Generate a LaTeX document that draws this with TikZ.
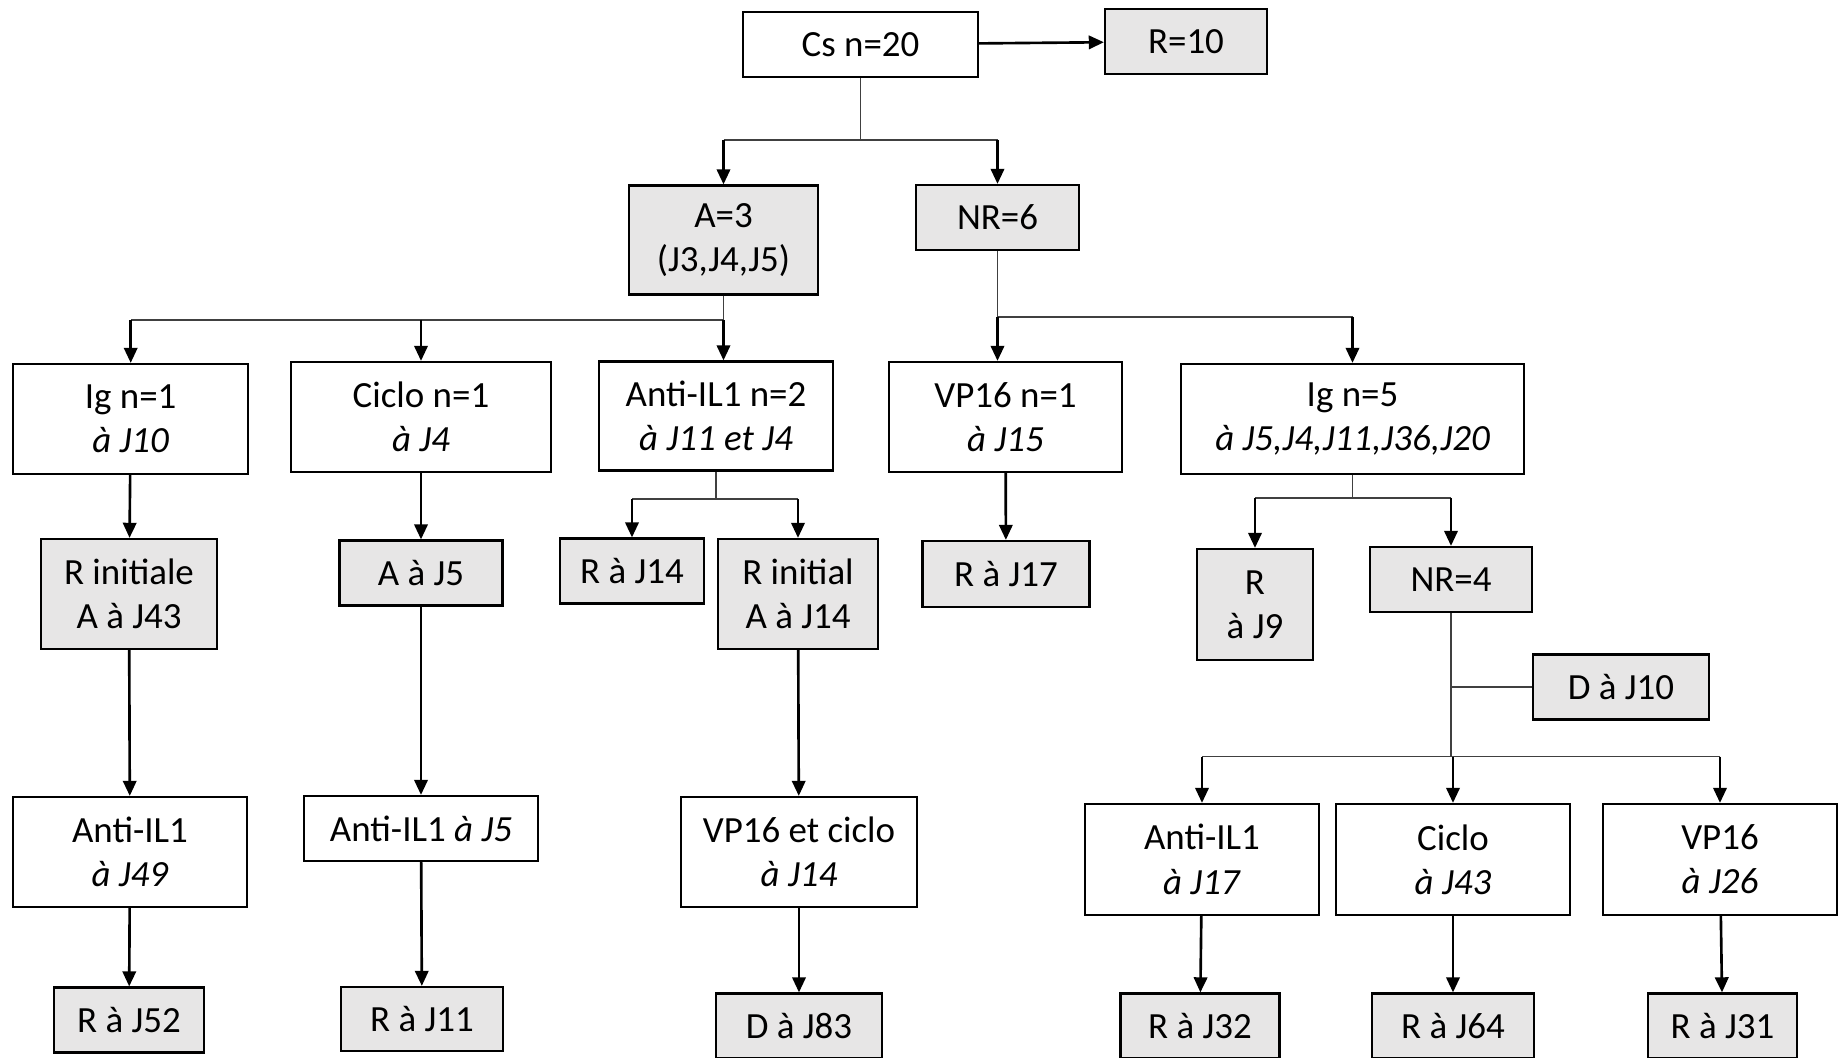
\documentclass[tikz,border=0pt]{standalone}
\usepackage{fontspec}
\setmainfont{Carlito}
\usetikzlibrary{arrows.meta}
\definecolor{boxgray}{RGB}{231,230,230}
\tikzstyle{wbox} = [rectangle, draw, fill=white, align=center, inner sep=0pt,
    line width=0.6pt, font=\fontsize{10.5}{12.6}\selectfont]
\tikzstyle{gbox} = [wbox, fill=boxgray]
\tikzstyle{bar} = [line width=0.45pt, draw=black!75]
\tikzstyle{arr} = [->, line width=0.75pt]

\begin{document}
\begin{tikzpicture}[x=0.01cm,y=-0.01cm,>={Triangle[length=4.3pt,width=3.8pt]}]
  \useasboundingbox (0,0) rectangle (1841,1058);
  % top
  \node[wbox,minimum width=2.35cm,minimum height=0.65cm] (cs)  at (860.5,44.5) {Cs n=20};
  \node[gbox,minimum width=1.62cm,minimum height=0.65cm] (r10) at (1186,41.5) {R=10};
  \node[gbox,minimum width=1.89cm,minimum height=1.09cm] (a3)  at (723.5,240) {A=3\\(J3,J4,J5)};
  \node[gbox,minimum width=1.63cm,minimum height=0.65cm] (nr6) at (997.5,217.5) {NR=6};
  % second level
  \node[wbox,minimum width=2.35cm,minimum height=1.10cm] (ig1)    at (130.7,419) {Ig n=1\\\textit{à J10}};
  \node[wbox,minimum width=2.60cm,minimum height=1.10cm] (ciclo1) at (421,417) {Ciclo n=1\\\textit{à J4}};
  \node[wbox,minimum width=2.34cm,minimum height=1.09cm] (anti2)  at (716,416) {Anti-IL1 n=2\\\textit{à J11 et J4}};
  \node[wbox,minimum width=2.33cm,minimum height=1.10cm] (vp1)    at (1005.5,417) {VP16 n=1\\\textit{à J15}};
  \node[wbox,minimum width=3.43cm,minimum height=1.10cm] (ig5)    at (1352.5,419) {Ig n=5\\\textit{à J5,J4,J11,J36,J20}};
  % third level
  \node[gbox,minimum width=1.76cm,minimum height=1.10cm] (rinit1) at (129,594) {R initiale\\A à J43};
  \node[gbox,minimum width=1.63cm,minimum height=0.65cm] (aj5)    at (421,573) {A à J5};
  \node[gbox,minimum width=1.44cm,minimum height=0.65cm] (rj14)   at (632,571) {R à J14};
  \node[gbox,minimum width=1.60cm,minimum height=1.10cm] (rinit2) at (798,594) {R initial\\A à J14};
  \node[gbox,minimum width=1.67cm,minimum height=0.66cm] (rj17)   at (1006,574) {R à J17};
  \node[gbox,minimum width=1.16cm,minimum height=1.11cm] (rj9)    at (1255,604.5) {R\\à J9};
  \node[gbox,minimum width=1.62cm,minimum height=0.65cm] (nr4)    at (1451,579.5) {NR=4};
  \node[gbox,minimum width=1.76cm,minimum height=0.65cm] (dj10)   at (1621,687) {D à J10};
  % fourth level
  \node[wbox,minimum width=2.34cm,minimum height=1.10cm] (anti49)  at (130,852) {Anti-IL1\\\textit{à J49}};
  \node[wbox,minimum width=2.34cm,minimum height=0.65cm] (anti5)   at (421,828.5) {Anti-IL1 \textit{à J5}};
  \node[wbox,minimum width=2.35cm,minimum height=1.10cm] (vpciclo) at (799,852) {VP16 et ciclo\\\textit{à J14}};
  \node[wbox,minimum width=2.34cm,minimum height=1.11cm] (anti17)  at (1202,859.5) {Anti-IL1\\\textit{à J17}};
  \node[wbox,minimum width=2.34cm,minimum height=1.11cm] (ciclo43) at (1453,859.5) {Ciclo\\\textit{à J43}};
  \node[wbox,minimum width=2.34cm,minimum height=1.11cm] (vp26)    at (1720,859.5) {VP16\\\textit{à J26}};
  % outcomes
  \node[gbox,minimum width=1.50cm,minimum height=0.65cm] (rj52) at (129,1020) {R à J52};
  \node[gbox,minimum width=1.62cm,minimum height=0.64cm] (rj11) at (422,1019) {R à J11};
  \node[gbox,minimum width=1.66cm,minimum height=0.65cm] (dj83) at (799,1026) {D à J83};
  \node[gbox,minimum width=1.59cm,minimum height=0.65cm] (rj32) at (1200,1026) {R à J32};
  \node[gbox,minimum width=1.62cm,minimum height=0.65cm] (rj64) at (1453,1026) {R à J64};
  \node[gbox,minimum width=1.49cm,minimum height=0.65cm] (rj31) at (1722.5,1026) {R à J31};

  % junctions
  \coordinate (j0) at (860.5,140);
  \coordinate (j1) at (0,320);
  \coordinate (j2) at (0,317);
  \coordinate (j3) at (0,499);
  \coordinate (j4) at (1352.5,498);
  \coordinate (j5) at (0,687);
  \coordinate (j6) at (0,756.7);

  \draw[bar] (cs.south) -- (j0);
  \draw[bar] (a3 |- j0) -- (nr6 |- j0);
  \draw[bar] (a3.south) -- (a3 |- j1) -- (ig1 |- j1);
  \draw[bar] (nr6.south) -- (nr6 |- j2) -- (ig5 |- j2);
  \draw[bar] (anti2.south) -- (anti2 |- j3);
  \draw[bar] (rj14 |- j3) -- (rinit2 |- j3);
  \draw[bar] (ig5.south) -- (j4);
  \draw[bar] (rj9 |- j4) -- (nr4 |- j4);
  \draw[bar] (nr4.south) -- (nr4 |- j6);
  \draw[bar] (nr4 |- j5) -- (dj10.west);
  \draw[bar] (anti17 |- j6) -- (vp26 |- j6);

  \path[arr] (cs) edge (r10)
        (a3 |- j0) edge (a3)
        (nr6 |- j0) edge (nr6)
        (ig1 |- j1) edge (ig1)
        (ciclo1 |- j1) edge (ciclo1)
        (a3 |- j1) edge (a3 |- anti2.north)
        (nr6 |- j2) edge (nr6 |- vp1.north)
        (ig5 |- j2) edge (ig5)
        (ig1) edge (rinit1)
        (ciclo1) edge (aj5)
        (rj14 |- j3) edge (rj14)
        (rinit2 |- j3) edge (rinit2)
        (vp1) edge (rj17)
        (rj9 |- j4) edge (rj9)
        (nr4 |- j4) edge (nr4)
        (rinit1) edge (anti49)
        (aj5) edge (anti5)
        (rinit2) edge (vpciclo)
        (anti17 |- j6) edge (anti17)
        (ciclo43 |- j6) edge (ciclo43)
        (vp26 |- j6) edge (vp26)
        (anti49) edge (rj52)
        (anti5) edge (rj11)
        (vpciclo) edge (dj83)
        (anti17) edge (rj32)
        (ciclo43) edge (rj64)
        (vp26) edge (rj31);
\end{tikzpicture}
\end{document}
